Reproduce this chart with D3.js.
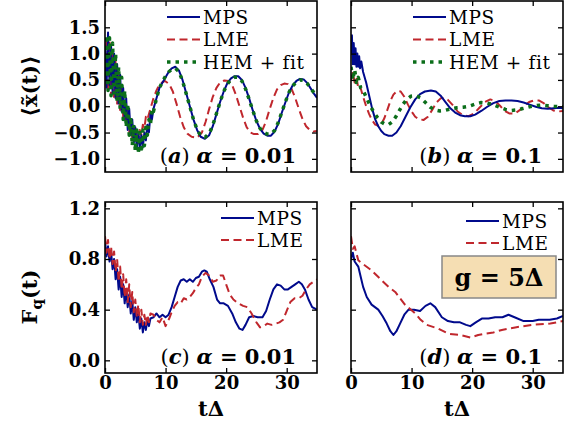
<!DOCTYPE html>
<html>
<head>
<meta charset="utf-8">
<script src="https://cdn.jsdelivr.net/npm/d3@7"></script>
<style>
  body { margin: 0; background: #fff; }
  text { font-family: "DejaVu Serif", serif; fill: #000; }
  .tick-label { font-weight: bold; font-size: 18px; }
</style>
</head>
<body>
<script>
// ---- data: [tΔ, value] ----
var xTicks = [0, 10, 20, 30];
var yTicksTop = [-1.0, -0.5, 0.0, 0.5, 1.0, 1.5];
var yTicksBottom = [0.0, 0.4, 0.8, 1.2];
var seriesNames = ["MPS", "LME", "HEM + fit"];

// (a) alpha = 0.01, <x(t)>
var mpsA = [[0,1.15],[0.25,0.35],[0.5,1.4],[0.75,0.4],[1,1.15],[1.25,0.25],[1.5,1.0],[1.75,0.15],[2,0.8],[2.25,0.05],[2.5,0.6],[2.75,-0.1],[3,0.35],[3.25,-0.25],[3.5,0.15],[3.75,-0.45],[4,-0.05],[4.25,-0.55],[4.5,-0.25],[4.75,-0.7],[5,-0.4],[5.25,-0.8],[5.5,-0.5],[5.75,-0.8],[6,-0.55],[6.25,-0.78],[6.5,-0.5],[6.75,-0.65],[7,-0.35],[7.25,-0.5],[7.5,-0.15],[7.75,-0.25],[8,-0.05],[8.5,0.15],[9,0.35],[9.5,0.45],[10,0.55],[10.5,0.65],[11,0.72],[11.6,0.75],[12.2,0.68],[12.8,0.5],[13.4,0.25],[14,0.0],[14.6,-0.25],[15.2,-0.45],[15.8,-0.58],[16.5,-0.62],[17.2,-0.55],[17.8,-0.38],[18.4,-0.15],[19,0.08],[19.6,0.28],[20.2,0.44],[20.8,0.53],[21.4,0.57],[22,0.57],[22.6,0.5],[23.2,0.35],[23.8,0.15],[24.4,-0.08],[25,-0.28],[25.6,-0.43],[26.2,-0.52],[26.8,-0.56],[27.4,-0.56],[28,-0.48],[28.6,-0.33],[29.2,-0.12],[29.8,0.08],[30.4,0.27],[31,0.4],[31.6,0.48],[32.2,0.52],[32.8,0.51],[33.4,0.44],[34,0.33],[34.5,0.24],[35,0.16]];
var lmeA = [[0,0.9],[0.25,1.3],[0.5,0.3],[0.75,1.25],[1,0.2],[1.25,1.05],[1.5,0.15],[1.75,0.85],[2,0.05],[2.25,0.65],[2.5,-0.1],[2.75,0.4],[3,-0.2],[3.25,0.15],[3.5,-0.35],[3.75,-0.05],[4,-0.5],[4.25,-0.25],[4.5,-0.6],[4.75,-0.4],[5,-0.65],[5.25,-0.45],[5.5,-0.65],[5.75,-0.45],[6,-0.55],[6.25,-0.35],[6.5,-0.42],[6.75,-0.2],[7,-0.25],[7.5,-0.05],[8,0.15],[8.5,0.3],[9,0.42],[9.9,0.48],[10.6,0.42],[11.2,0.28],[11.8,0.05],[12.4,-0.2],[13,-0.4],[13.6,-0.52],[14.3,-0.58],[15.2,-0.6],[16,-0.5],[16.6,-0.3],[17.2,-0.05],[17.8,0.18],[18.4,0.35],[19,0.45],[19.7,0.49],[20.4,0.48],[21,0.4],[21.6,0.22],[22.2,0.0],[22.8,-0.22],[23.4,-0.4],[24,-0.5],[24.6,-0.53],[25.3,-0.53],[26,-0.45],[26.6,-0.28],[27.2,-0.05],[27.8,0.16],[28.4,0.32],[29,0.4],[29.6,0.43],[30.2,0.42],[30.8,0.33],[31.4,0.16],[32,-0.05],[32.6,-0.24],[33.2,-0.38],[33.8,-0.45],[34.4,-0.48],[35,-0.47]];
var hemA = [[0,0.6],[0.25,1.35],[0.5,0.3],[0.75,1.3],[1,0.2],[1.25,1.2],[1.5,0.25],[1.75,1.0],[2,0.1],[2.25,0.75],[2.5,-0.05],[2.75,0.55],[3,-0.25],[3.25,0.3],[3.5,-0.4],[3.75,0.05],[4,-0.55],[4.25,-0.2],[4.5,-0.75],[4.75,-0.35],[5,-0.85],[5.25,-0.45],[5.5,-0.9],[5.75,-0.5],[6,-0.88],[6.25,-0.45],[6.5,-0.75],[6.75,-0.4],[7,-0.55],[7.25,-0.25],[7.5,-0.35],[7.75,-0.05],[8,-0.1],[8.5,0.15],[9,0.35],[9.5,0.47],[10,0.57],[10.5,0.65],[11,0.7],[11.6,0.72],[12.2,0.66],[12.8,0.48],[13.4,0.24],[14,0.0],[14.6,-0.25],[15.2,-0.44],[15.8,-0.56],[16.5,-0.59],[17.2,-0.52],[17.8,-0.36],[18.4,-0.14],[19,0.08],[19.6,0.28],[20.2,0.42],[20.8,0.51],[21.4,0.55],[22,0.55],[22.6,0.48],[23.2,0.33],[23.8,0.13],[24.4,-0.08],[25,-0.28],[25.6,-0.42],[26.2,-0.5],[26.8,-0.53],[27.4,-0.53],[28,-0.46],[28.6,-0.31],[29.2,-0.11],[29.8,0.09],[30.4,0.27],[31,0.39],[31.6,0.46],[32.2,0.5],[32.8,0.49],[33.4,0.43],[34,0.33],[34.5,0.26],[35,0.2]];

// (b) alpha = 0.1, <x(t)>
var mpsB = [[0,1.0],[0.15,1.35],[0.3,0.8],[0.45,1.2],[0.6,0.8],[0.75,1.1],[0.9,0.75],[1.05,1.0],[1.2,0.75],[1.35,0.95],[1.5,0.72],[1.7,0.85],[2,0.65],[2.5,0.45],[3,0.2],[3.5,-0.05],[4,-0.25],[4.5,-0.38],[5,-0.47],[5.5,-0.53],[6.2,-0.56],[6.8,-0.56],[7.5,-0.5],[8.2,-0.38],[9,-0.2],[9.8,-0.02],[10.6,0.13],[11.4,0.23],[12.2,0.28],[13.2,0.3],[14,0.28],[14.8,0.2],[15.6,0.08],[16.4,-0.04],[17.2,-0.12],[18,-0.17],[18.8,-0.19],[19.7,-0.19],[20.5,-0.16],[21.5,-0.09],[22.5,-0.01],[23.5,0.06],[24.5,0.1],[25.5,0.11],[26.5,0.11],[27.5,0.1],[28.5,0.07],[29.5,0.03],[30.5,-0.01],[31.5,-0.04],[32.5,-0.05],[33.5,-0.04],[34.3,-0.03],[35,-0.04]];
var lmeB = [[0,0.5],[0.3,0.65],[0.6,0.45],[0.9,0.55],[1.2,0.35],[1.5,0.38],[2,0.18],[2.5,0.0],[3,-0.15],[3.5,-0.27],[4,-0.35],[4.5,-0.37],[5,-0.34],[5.5,-0.23],[6,-0.07],[6.5,0.1],[7,0.22],[7.6,0.29],[8.2,0.28],[8.8,0.18],[9.4,0.03],[10,-0.1],[10.6,-0.2],[11.3,-0.25],[12,-0.26],[12.7,-0.2],[13.4,-0.07],[14.1,0.07],[14.8,0.15],[15.4,0.16],[16,0.12],[16.8,0.02],[17.6,-0.1],[18.5,-0.17],[19.4,-0.19],[20.3,-0.14],[21.2,-0.03],[22.1,0.08],[23,0.13],[23.8,0.1],[24.6,0.01],[25.4,-0.09],[26.2,-0.14],[27,-0.14],[27.8,-0.08],[28.6,0.01],[29.4,0.08],[30.2,0.11],[31,0.11],[31.8,0.06],[32.6,-0.02],[33.4,-0.08],[34.2,-0.1],[35,-0.09]];
var hemB = [[0,0.75],[0.3,0.5],[0.6,0.7],[0.9,0.45],[1.2,0.55],[1.6,0.35],[2,0.3],[2.6,0.15],[3.2,0.0],[3.8,-0.12],[4.4,-0.22],[5,-0.3],[5.6,-0.34],[6.2,-0.35],[6.8,-0.3],[7.4,-0.2],[8,-0.08],[8.6,0.04],[9.2,0.13],[9.9,0.19],[10.7,0.2],[11.5,0.16],[12.3,0.07],[13.1,-0.02],[13.9,-0.07],[14.7,-0.09],[15.5,-0.08],[16.5,-0.05],[17.5,-0.03],[18.5,-0.02],[19.5,0.0],[20.5,0.04],[21.5,0.07],[22.5,0.06],[23.5,0.03],[24.5,-0.02],[25.5,-0.06],[26.5,-0.08],[27.5,-0.07],[28.5,-0.04],[29.5,-0.01],[30.5,0.01],[31.5,0.02],[32.5,0.01],[33.5,0.0],[35,-0.01]];

// (c) alpha = 0.01, Fq(t)
var mpsC = [[0,0.95],[0.25,0.82],[0.5,0.9],[0.75,0.78],[1,0.86],[1.25,0.72],[1.5,0.8],[1.75,0.64],[2,0.72],[2.25,0.56],[2.5,0.66],[2.75,0.5],[3,0.6],[3.25,0.45],[3.5,0.56],[3.75,0.42],[4,0.52],[4.25,0.37],[4.5,0.47],[4.75,0.32],[5,0.42],[5.25,0.3],[5.5,0.38],[5.75,0.25],[6,0.33],[6.25,0.22],[6.5,0.3],[6.75,0.24],[7,0.32],[7.25,0.27],[7.5,0.33],[8,0.34],[8.5,0.37],[9,0.34],[9.5,0.36],[10,0.34],[10.5,0.36],[11,0.42],[11.5,0.5],[12,0.58],[12.5,0.63],[13,0.64],[13.5,0.62],[14,0.64],[14.5,0.62],[15,0.65],[15.5,0.66],[16,0.7],[16.4,0.71],[16.8,0.7],[17.3,0.64],[17.9,0.58],[18.5,0.48],[19,0.45],[19.6,0.45],[20.3,0.43],[21,0.37],[21.6,0.3],[22.2,0.25],[22.7,0.24],[23.2,0.28],[23.8,0.34],[24.5,0.35],[25.2,0.34],[26,0.34],[26.6,0.39],[27.2,0.48],[27.8,0.56],[28.4,0.6],[29,0.59],[29.6,0.56],[30.2,0.56],[30.8,0.58],[31.4,0.6],[32,0.62],[32.5,0.6],[33,0.56],[33.6,0.48],[34.2,0.42],[35,0.4]];
var lmeC = [[0,0.98],[0.25,0.85],[0.5,0.95],[0.75,0.8],[1,0.9],[1.25,0.76],[1.5,0.86],[1.75,0.7],[2,0.8],[2.25,0.62],[2.5,0.74],[2.75,0.56],[3,0.68],[3.25,0.5],[3.5,0.64],[3.75,0.46],[4,0.6],[4.25,0.42],[4.5,0.54],[4.75,0.38],[5,0.48],[5.25,0.34],[5.5,0.44],[5.75,0.3],[6,0.4],[6.25,0.28],[6.5,0.36],[6.75,0.28],[7,0.36],[7.25,0.3],[7.5,0.37],[8,0.36],[8.5,0.32],[9,0.3],[9.5,0.34],[10,0.27],[10.3,0.3],[10.6,0.33],[11,0.38],[11.5,0.43],[12,0.46],[12.5,0.45],[13,0.49],[13.5,0.48],[14,0.5],[14.5,0.53],[15,0.57],[15.5,0.6],[16,0.66],[16.6,0.69],[17.2,0.67],[17.8,0.62],[18.4,0.63],[19,0.67],[19.5,0.67],[20,0.6],[20.6,0.52],[21.2,0.48],[22,0.45],[22.8,0.43],[23.5,0.42],[24.2,0.37],[25,0.3],[25.6,0.26],[26.2,0.27],[26.8,0.29],[27.5,0.28],[28.2,0.29],[28.8,0.3],[29.4,0.32],[30,0.39],[30.6,0.46],[31.3,0.49],[32,0.49],[32.6,0.51],[33.2,0.56],[33.8,0.6],[34.4,0.62],[35,0.64]];

// (d) alpha = 0.1, Fq(t)
var mpsD = [[0,0.8],[0.3,0.85],[0.6,0.78],[1.2,0.74],[1.6,0.66],[2,0.58],[2.6,0.5],[3.4,0.44],[4.5,0.4],[5.2,0.35],[5.9,0.29],[6.5,0.23],[7,0.2],[7.5,0.23],[8.1,0.29],[8.8,0.36],[9.5,0.4],[10.4,0.4],[11.4,0.39],[12.3,0.43],[13.1,0.45],[13.9,0.42],[15,0.34],[16,0.31],[17,0.3],[18,0.3],[19,0.28],[19.7,0.27],[20.6,0.3],[21.6,0.33],[22.7,0.33],[23.8,0.34],[25,0.34],[26,0.36],[27,0.34],[28.5,0.31],[30,0.31],[31,0.32],[32.8,0.32],[34,0.33],[35,0.35]];
var lmeD = [[0,0.98],[0.3,0.88],[0.6,0.9],[1.2,0.79],[2,0.76],[3.4,0.71],[5.1,0.63],[6.2,0.58],[7.3,0.54],[8.1,0.49],[8.9,0.44],[10.6,0.37],[11.5,0.32],[12.5,0.28],[14.4,0.25],[16.1,0.21],[18,0.2],[19.7,0.18],[21,0.2],[22.1,0.21],[23.5,0.22],[24.9,0.24],[27.1,0.26],[29.9,0.28],[32.9,0.29],[35,0.31]];

window.onload = function(){
    var w = 577, h = 425;

    var svg = d3.select("body")
        .append("svg")
        .attr("width", w)
        .attr("height", h);

    var colors = { MPS: "#000a8c", LME: "#c0272d", HEM: "#0b6e1a" };
    var styles = {
        MPS: { dash: null, width: 2 },
        LME: { dash: "8,4.5", width: 2 },
        HEM: { dash: "3.5,5", width: 3.5 }
    };

    var left = [105, 317], right = [351, 563];
    var top = [1, 172], bottom = [202, 373];

    function panel(xr, yr, yDomain, yTicks, showYLabels, showXLabels, lines, legend, note){
        var x = d3.scaleLinear().domain([0, 35]).range(xr);
        var y = d3.scaleLinear().domain(yDomain).range([yr[1], yr[0]]);
        var g = svg.append("g").attr("class", "panel");

        var clipId = "clip" + Math.round(xr[0]) + "_" + Math.round(yr[0]);
        g.append("clipPath").attr("id", clipId)
            .append("rect")
            .attr("x", xr[0]).attr("y", yr[0])
            .attr("width", xr[1] - xr[0]).attr("height", yr[1] - yr[0]);

        //curves
        var line = d3.line()
            .x(function(d){ return x(d[0]); })
            .y(function(d){ return y(d[1]); });
        lines.forEach(function(s){
            g.append("path")
                .datum(s.data)
                .attr("clip-path", "url(#" + clipId + ")")
                .attr("d", line)
                .attr("fill", "none")
                .attr("stroke", colors[s.key])
                .attr("stroke-width", styles[s.key].width)
                .attr("stroke-dasharray", styles[s.key].dash)
                .attr("stroke-linejoin", "round");
        });

        //inward ticks on all four sides
        var tickLen = 5;
        g.append("g").attr("transform", "translate(0," + yr[1] + ")")
            .call(d3.axisBottom(x).tickValues(xTicks).tickSizeInner(-tickLen).tickSizeOuter(0)
                .tickFormat(showXLabels ? d3.format("d") : ""));
        g.append("g").attr("transform", "translate(0," + yr[0] + ")")
            .call(d3.axisTop(x).tickValues(xTicks).tickSizeInner(-tickLen).tickSizeOuter(0).tickFormat(""));
        g.append("g").attr("transform", "translate(" + xr[0] + ",0)")
            .call(d3.axisLeft(y).tickValues(yTicks).tickSizeInner(-tickLen).tickSizeOuter(0)
                .tickFormat(showYLabels ? function(d){ return d3.format(".1f")(d).replace("-", "\u2212"); } : ""));
        g.append("g").attr("transform", "translate(" + xr[1] + ",0)")
            .call(d3.axisRight(y).tickValues(yTicks).tickSizeInner(-tickLen).tickSizeOuter(0).tickFormat(""));

        g.selectAll(".domain").remove();
        g.selectAll(".tick line").attr("stroke", "#000").attr("stroke-width", 1.3);
        g.selectAll(".tick text")
            .attr("class", "tick-label")
            .style("font-family", "DejaVu Serif, serif")
            .style("font-size", "18px")
            .style("font-weight", "bold")
            .attr("fill", "#000");
        if (showYLabels) g.selectAll(".tick text").filter(function(){ return this.getAttribute("x") < 0; }).attr("x", -5);

        //frame
        g.append("rect")
            .attr("x", xr[0]).attr("y", yr[0])
            .attr("width", xr[1] - xr[0]).attr("height", yr[1] - yr[0])
            .attr("fill", "none")
            .attr("stroke", "#000")
            .attr("stroke-width", 1.6);

        //legend
        legend.items.forEach(function(it, i){
            var ly = legend.y + i * legend.dy;
            g.append("line")
                .attr("x1", legend.x).attr("x2", legend.x + 33)
                .attr("y1", ly).attr("y2", ly)
                .attr("stroke", colors[it.key])
                .attr("stroke-width", styles[it.key].width)
                .attr("stroke-dasharray", styles[it.key].dash);
            g.append("text")
                .attr("x", legend.x + 36).attr("y", ly + 6.5)
                .style("font-size", "18.5px")
                .style("letter-spacing", "0.6px")
                .text(it.label);
        });

        //panel annotation
        var t = g.append("text")
            .attr("x", xr[1] - 21).attr("y", yr[1] - 9)
            .attr("text-anchor", "end")
            .style("font-size", "21px");
        t.append("tspan").text("(");
        t.append("tspan").style("font-style", "italic").style("font-weight", "bold").text(note.letter);
        t.append("tspan").text(") ");
        t.append("tspan").style("font-style", "italic").style("font-weight", "bold").text("\u03b1");
        t.append("tspan").style("font-weight", "bold").text(" = " + note.alpha);
    }

    panel(left, top, [-1.25, 2.0], yTicksTop, true, false,
        [{ key: "LME", data: lmeA }, { key: "MPS", data: mpsA }, { key: "HEM", data: hemA }],
        { x: 167, y: 17, dy: 22.5, items: [{ key: "MPS", label: seriesNames[0] }, { key: "LME", label: seriesNames[1] }, { key: "HEM", label: seriesNames[2] }] },
        { letter: "a", alpha: "0.01" });
    panel(right, top, [-1.25, 2.0], yTicksTop, false, false,
        [{ key: "LME", data: lmeB }, { key: "MPS", data: mpsB }, { key: "HEM", data: hemB }],
        { x: 413, y: 17, dy: 22.5, items: [{ key: "MPS", label: seriesNames[0] }, { key: "LME", label: seriesNames[1] }, { key: "HEM", label: seriesNames[2] }] },
        { letter: "b", alpha: "0.1" });
    panel(left, bottom, [-0.1, 1.25], yTicksBottom, true, true,
        [{ key: "MPS", data: mpsC }, { key: "LME", data: lmeC }],
        { x: 221, y: 218, dy: 22, items: [{ key: "MPS", label: seriesNames[0] }, { key: "LME", label: seriesNames[1] }] },
        { letter: "c", alpha: "0.01" });
    panel(right, bottom, [-0.1, 1.25], yTicksBottom, false, true,
        [{ key: "MPS", data: mpsD }, { key: "LME", data: lmeD }],
        { x: 466, y: 221, dy: 22, items: [{ key: "MPS", label: seriesNames[0] }, { key: "LME", label: seriesNames[1] }] },
        { letter: "d", alpha: "0.1" });

    //g = 5 Delta box
    svg.append("rect")
        .attr("x", 442).attr("y", 256)
        .attr("width", 114).attr("height", 42)
        .attr("fill", "#f5deb3")
        .attr("stroke", "#888")
        .attr("stroke-width", 1.5);
    svg.append("text")
        .attr("x", 499).attr("y", 286)
        .attr("text-anchor", "middle")
        .style("font-size", "24px")
        .style("font-weight", "bold")
        .text("g = 5\u0394");

    //axis titles
    [211, 457].forEach(function(cx){
        svg.append("text")
            .attr("x", cx).attr("y", 416)
            .attr("text-anchor", "middle")
            .style("font-size", "21px")
            .style("font-weight", "bold")
            .text("t\u0394");
    });
    var yl1 = svg.append("text")
        .attr("transform", "translate(37,86) rotate(-90)")
        .attr("text-anchor", "middle")
        .style("font-size", "21px")
        .style("font-weight", "bold");
    yl1.append("tspan").text("\u27e8x\u0303(t)\u27e9");
    var yl2 = svg.append("text")
        .attr("transform", "translate(37,297) rotate(-90)")
        .attr("text-anchor", "middle")
        .style("font-size", "21px")
        .style("font-weight", "bold");
    yl2.append("tspan").text("F");
    yl2.append("tspan").attr("dy", 5).style("font-size", "15px").text("q");
    yl2.append("tspan").attr("dy", -5).text("(t)");
};
</script>
</body>
</html>
